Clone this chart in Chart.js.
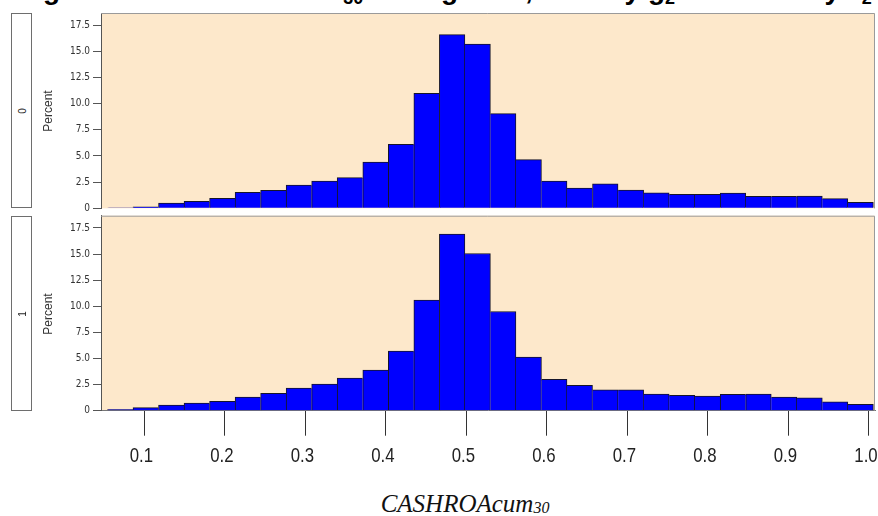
<!DOCTYPE html>
<html>
<head>
<meta charset="utf-8">
<script src="https://cdn.jsdelivr.net/npm/chart.js@4.4.1/dist/chart.umd.min.js"></script>
<style>
  body { margin: 0; background: #fff; }
  #wrap { position: relative; width: 878px; height: 516px; overflow: hidden; font-family: 'Liberation Sans', Arial, sans-serif; }
  canvas { position: absolute; left: 0; }
  .title { position: absolute; left: 0; top: 0; width: 878px; height: 13px; overflow: hidden; }
  .title span { position: absolute; left: 18px; top: -24.5px; font: bold 28px/28px 'Liberation Sans', Arial, sans-serif; white-space: nowrap; color: #000; }
  .title sub { font-size: 18px; vertical-align: -5px; }
  .strip { position: absolute; left: 11px; width: 19px; border: 1px solid #6e6e6e; background: #fff; }
  .rot { position: absolute; transform: translate(-50%, -50%) rotate(-90deg); white-space: nowrap; color: #222; }
  .strip .rot { left: 50%; top: 50%; font-size: 10px; }
  .ylab { font-size: 12px; color: #333; }
  .xlab { position: absolute; left: 465px; top: 490.6px; transform: translateX(-50%); font: italic 25px/25px 'Liberation Serif', 'DejaVu Serif', serif; white-space: nowrap; color: #111; }
  .xlab sub { font-size: 16px; vertical-align: -1px; }
</style>
</head>
<body>
<div id="wrap">
  <div class="title"><span>Figure 3: CASHROAcum<sub>30</sub> Histograms, dummy g<sub>2</sub> and dummy z<sub>2</sub> = 0</span></div>

  <canvas id="panel0" width="878" height="220" style="top:0"></canvas>
  <canvas id="panel1" width="878" height="280" style="top:200px"></canvas>

  <div class="strip" style="top:13px;height:193px"><span class="rot">0</span></div>
  <div class="strip" style="top:216px;height:193px"><span class="rot">1</span></div>
  <span class="rot ylab" style="left:48px;top:110.5px">Percent</span>
  <span class="rot ylab" style="left:48px;top:314px">Percent</span>

  <div class="xlab">CASHROAcum<sub>30</sub></div>
</div>

<script>
// histogram bin midpoints (30 equal bins)
const binMids = [0.0701, 0.1018, 0.1335, 0.1652, 0.1969, 0.2286, 0.2603, 0.2920, 0.3237, 0.3554,
                 0.3872, 0.4189, 0.4506, 0.4823, 0.5140, 0.5457, 0.5774, 0.6091, 0.6408, 0.6725,
                 0.7043, 0.7360, 0.7677, 0.7994, 0.8311, 0.8628, 0.8945, 0.9262, 0.9579, 0.9896];

// percent of firms per bin, group 0 and group 1
const pct0 = [0.05, 0.15, 0.50, 0.67, 0.96, 1.53, 1.72, 2.23, 2.61, 2.93,
              4.43, 6.12, 11.0, 16.6, 15.7, 9.05, 4.65, 2.61, 1.94, 2.33,
              1.75, 1.49, 1.34, 1.34, 1.46, 1.15, 1.15, 1.18, 0.92, 0.57];
const pct1 = [0.10, 0.29, 0.55, 0.74, 0.90, 1.31, 1.67, 2.17, 2.56, 3.13,
              3.90, 5.71, 10.6, 16.9, 15.05, 9.50, 5.14, 3.00, 2.42, 1.99,
              1.99, 1.60, 1.46, 1.40, 1.56, 1.60, 1.31, 1.24, 0.86, 0.60];

const xTicks = [0.1, 0.2, 0.3, 0.4, 0.5, 0.6, 0.7, 0.8, 0.9, 1.0];
const xTickLabels = ['0.1', '0.2', '0.3', '0.4', '0.5', '0.6', '0.7', '0.8', '0.9', '1.0'];
const yTicks = [0, 2.5, 5, 7.5, 10, 12.5, 15, 17.5];
const yTickLabels = ['0', '2.5', '5.0', '7.5', '10.0', '12.5', '15.0', '17.5'];

const X_MIN = 0.0462, X_MAX = 1.0075, Y_MAX = 18.67;
const NARROW = "'Liberation Sans Narrow', 'DejaVu Sans Condensed', 'Liberation Sans', sans-serif";

// panel background and the grey frame around it
const panelFrame = {
  id: 'panelFrame',
  beforeDraw(chart) {
    const a = chart.chartArea, ctx = chart.ctx;
    ctx.save();
    ctx.fillStyle = '#fde8cb';
    ctx.fillRect(a.left, a.top, a.right - a.left, a.bottom - a.top);
    ctx.restore();
  },
  afterDatasetsDraw(chart) {
    const a = chart.chartArea, ctx = chart.ctx;
    ctx.save();
    ctx.strokeStyle = '#9a9a9a';
    ctx.lineWidth = 1;
    ctx.beginPath();
    ctx.moveTo(a.left, a.top + 0.5);
    ctx.lineTo(a.right - 0.5, a.top + 0.5);
    ctx.lineTo(a.right - 0.5, a.bottom);
    ctx.stroke();
    ctx.restore();
  }
};

// condensed x tick labels, placed at the scale's own tick positions
const narrowXLabels = {
  id: 'narrowXLabels',
  afterDraw(chart) {
    const sx = chart.scales.x;
    if (!sx.options.display) return;
    const ctx = chart.ctx;
    ctx.save();
    ctx.fillStyle = '#222';
    ctx.font = "21px 'Liberation Sans', Arial, sans-serif";
    ctx.textAlign = 'center';
    ctx.textBaseline = 'alphabetic';
    xTicks.forEach((v, i) => {
      ctx.save();
      ctx.translate(sx.getPixelForValue(v) - 3, sx.top + 51);
      ctx.scale(0.8, 1);
      ctx.fillText(xTickLabels[i], 0, 0);
      ctx.restore();
    });
    ctx.restore();
  }
};

function makePanel(id, values, showX, pad) {
  const n = values.length;
  // one dark edge per bin boundary, owned by the taller bar
  const edges = ctx => {
    const i = ctx.dataIndex;
    return {
      top: 1,
      bottom: 0,
      left: (i === 0 || values[i - 1] < values[i]) ? 1 : 0,
      right: (i === n - 1 || values[i + 1] <= values[i]) ? 1 : 0
    };
  };

  const xScale = {
    type: 'linear',
    min: X_MIN,
    max: X_MAX,
    offset: false,
    display: showX,
    afterBuildTicks: s => { s.ticks = xTicks.map(v => ({ value: v })); },
    grid: { drawOnChartArea: false, drawTicks: true, tickLength: 25, color: '#333', offset: false },
    border: { display: true, color: '#777' },
    ticks: { display: false }
  };
  if (showX) xScale.afterFit = s => { s.height = 69.3; };

  return new Chart(document.getElementById(id), {
    type: 'bar',
    data: {
      datasets: [{
        data: binMids.map((x, i) => ({ x: x, y: values[i] })),
        backgroundColor: '#0000ff',
        borderColor: '#15152a',
        borderWidth: edges,
        borderSkipped: false,
        barPercentage: 1,
        categoryPercentage: 1
      }]
    },
    options: {
      responsive: false,
      animation: false,
      devicePixelRatio: 1,
      layout: { padding: pad },
      plugins: { legend: { display: false }, tooltip: { enabled: false } },
      scales: {
        x: xScale,
        y: {
          min: 0,
          max: Y_MAX,
          afterBuildTicks: s => { s.ticks = yTicks.map(v => ({ value: v })); },
          afterFit: s => { s.width = 101; },
          grid: { drawOnChartArea: false, drawTicks: true, tickLength: 8, color: '#555' },
          border: { display: true, color: '#555' },
          ticks: {
            padding: 3,
            color: '#333',
            font: { family: NARROW, size: 10 },
            callback: (v, i) => yTickLabels[i]
          }
        }
      }
    },
    plugins: [panelFrame, narrowXLabels]
  });
}

makePanel('panel0', pct0, false, { top: 13, bottom: 11.7, left: 0, right: 3 });
makePanel('panel1', pct1, true, { top: 15.7, bottom: 0, left: 0, right: 3 });
</script>
</body>
</html>
